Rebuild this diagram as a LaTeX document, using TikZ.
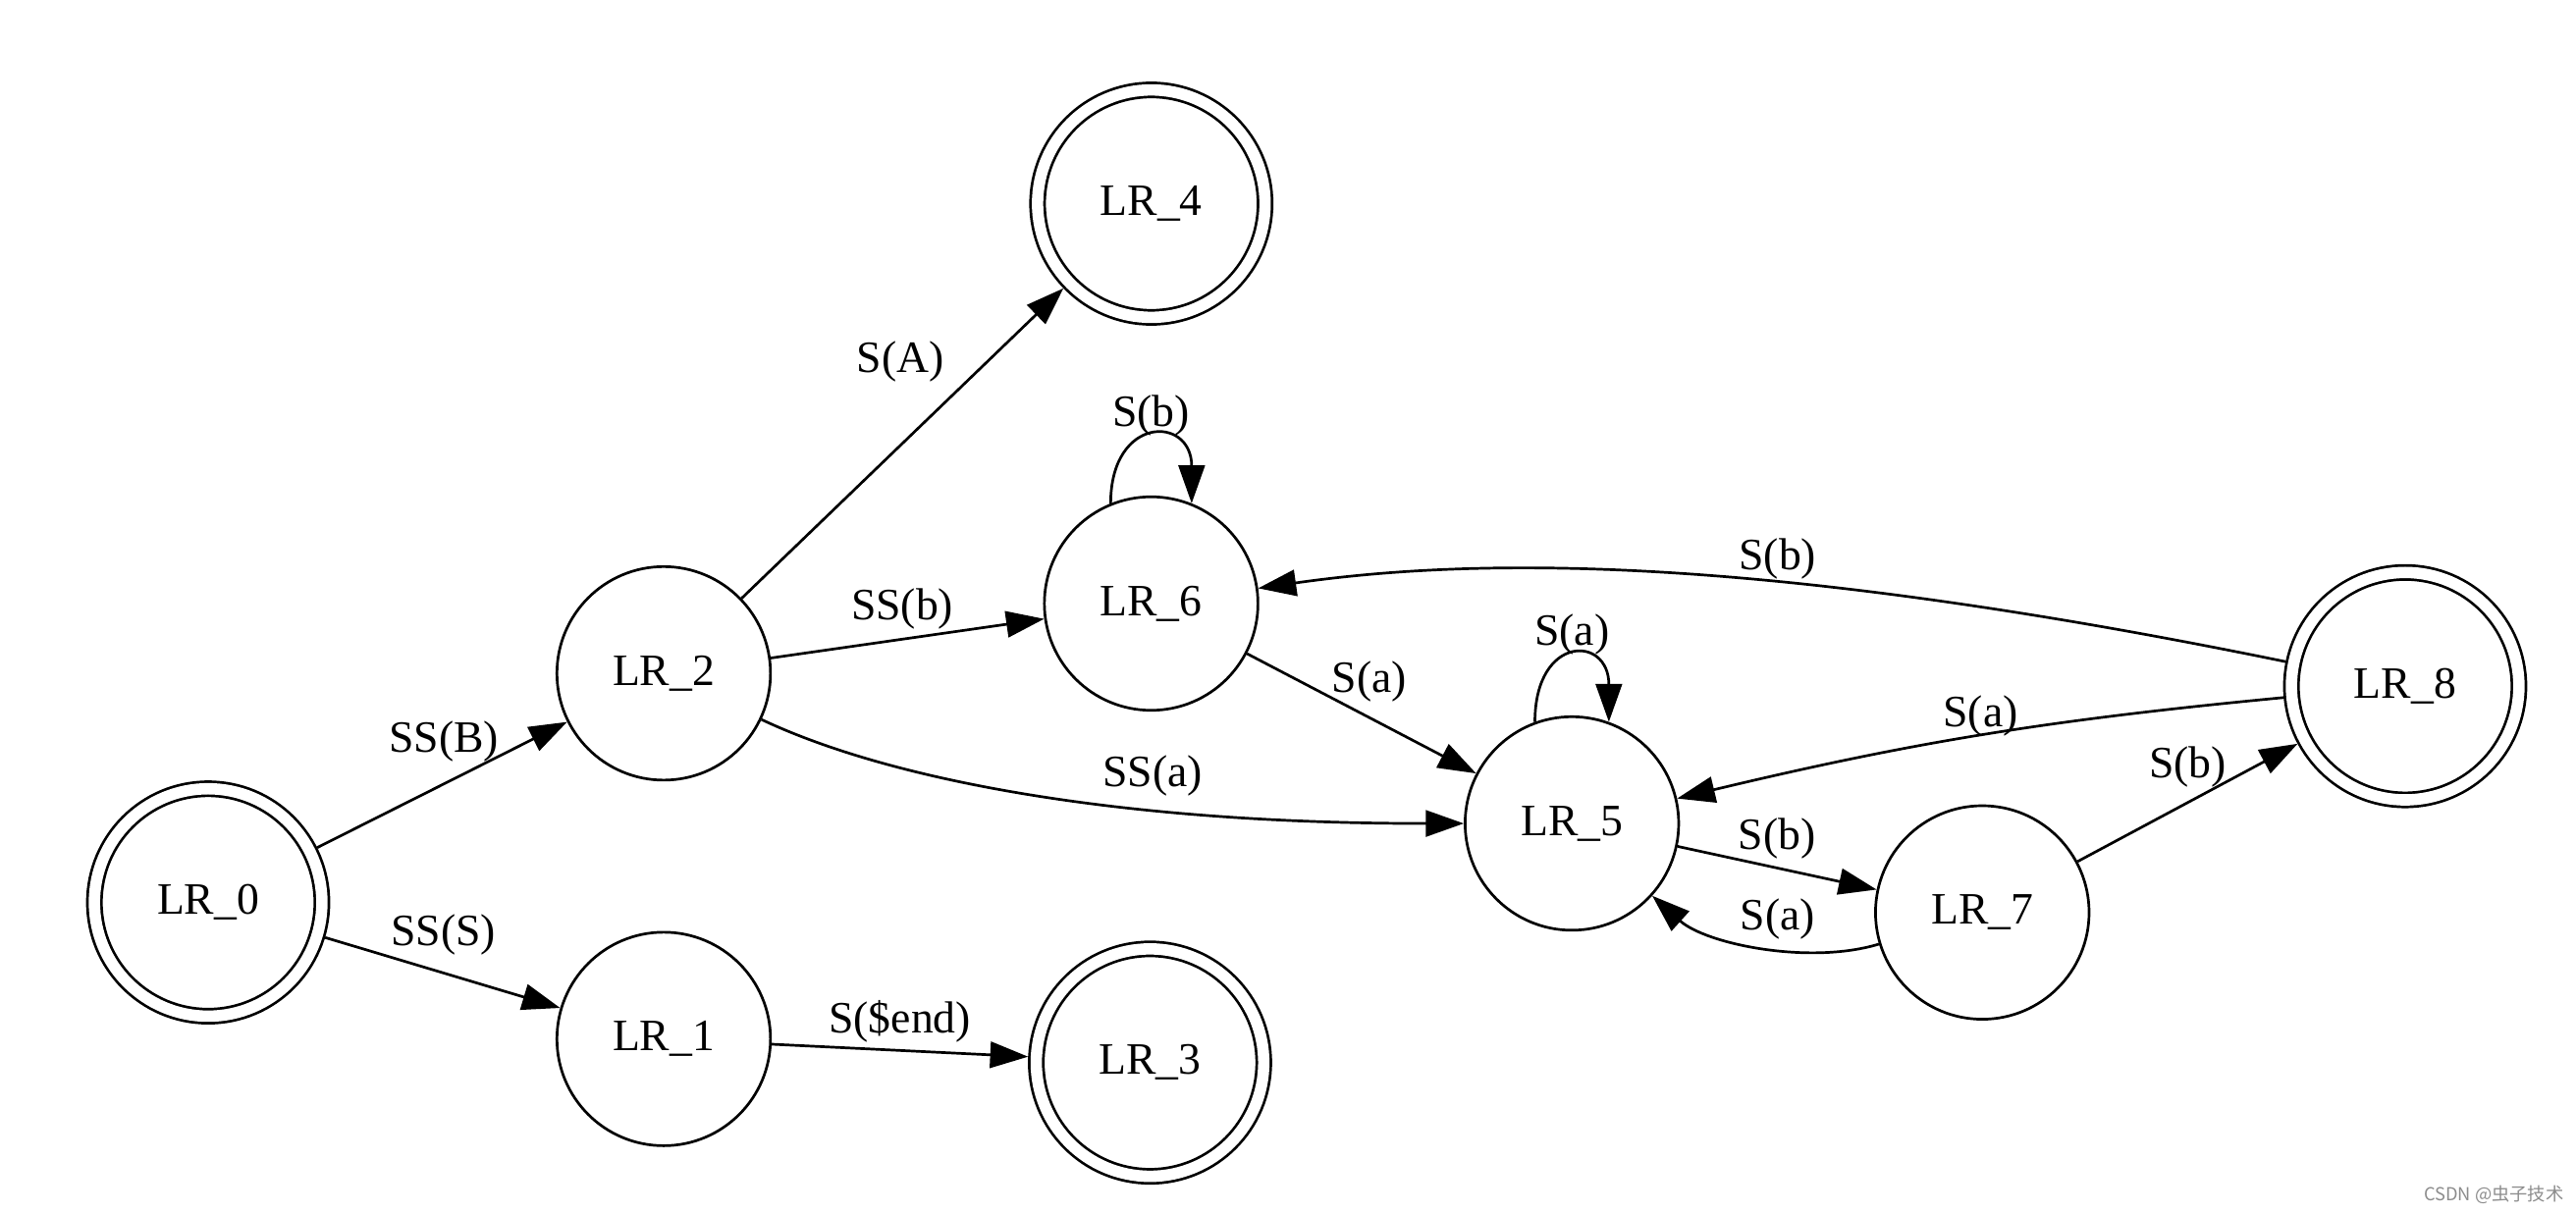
\documentclass[tikz,border=0pt]{standalone}
\usepackage{fontspec}
\setmainfont{Liberation Serif}
\newfontfamily\cjksans{Noto Sans CJK SC}
\usetikzlibrary{arrows.meta,automata}

\begin{document}
\begin{tikzpicture}[x=0.016735cm, y=0.016735cm, >={Triangle[length=11pt,width=7.6pt]}, line width=0.77pt,
	font=\fontsize{13}{15}\selectfont,
	every state/.style={draw, circle, minimum size=2.176cm, inner sep=0pt},
	accepting/.style={double, double distance=3.3pt, minimum size=2.318cm, outer sep=2.4pt},
	lbl/.style={inner sep=0pt}]
	\useasboundingbox (0,0) rectangle (1568,739);

	% Nodes {LR_0, LR_1, ..., LR_8}
	\node [state, accepting]	(LR_0) at (126.7,189.5)	{LR\_0};
	\node [state]				(LR_1) at (404,106.4)	{LR\_1};
	\node [state]				(LR_2) at (404,329)		{LR\_2};
	\node [state, accepting]	(LR_3) at (700,92)		{LR\_3};
	\node [state, accepting]	(LR_4) at (700.8,615)	{LR\_4};
	\node [state]				(LR_5) at (956.8,237.6)	{LR\_5};
	\node [state]				(LR_6) at (700.7,371.5)	{LR\_6};
	\node [state]				(LR_7) at (1206.6,183.4)	{LR\_7};
	\node [state, accepting]	(LR_8) at (1464,321.2)	{LR\_8};

	% Paths
	\path [->] 	(LR_0) edge 	node [lbl, shift={(1,26.5)}]		{SS(B)}		(LR_2);
	\path [->] 	(LR_0) edge 	node [lbl, shift={(0.5,23)}]		{SS(S)}		(LR_1);
	\path [->] 	(LR_1) edge 	node [lbl, shift={(0,17.6)}]		{S(\$end)}	(LR_3);
	\path [->] 	(LR_2) edge 	node [lbl, shift={(-1.2,49.7)}]		{S(A)}		(LR_4);
	\path [->] 	(LR_2) edge 	node [lbl, shift={(-3.1,18.2)}]		{SS(b)}		(LR_6);
	\path [->] 	(LR_2) edge [out=-25.5, in=180, out distance=1.44cm, in distance=3.54cm]
						node [lbl, shift={(74.4,11.1)}]		{SS(a)}		(LR_5);
	\path [->] 	(LR_6.112) edge [out=90, in=90, out distance=0.9cm, in distance=0.9cm]
						node [lbl, above]		{S(b)}		(LR_6.68);
	\path [->] 	(LR_6) edge 	node [lbl, shift={(4.8,19.4)}]		{S(a)}		(LR_5);
	\path [->] 	(LR_5.110) edge [out=90, in=90, out distance=0.89cm, in distance=0.89cm]
						node [lbl, above]		{S(a)}		(LR_5.70);
	\path [->] 	(LR_8) edge [out=168.5, in=8.2, out distance=5.46cm, in distance=2.26cm]
						node [lbl, shift={(73.2,8.6)}]		{S(b)}		(LR_6);
	\path [->] 	(LR_8) edge [bend right=4]	node [lbl, shift={(1.4,12.1)}]	{S(a)}	(LR_5);
	\path [->] 	(LR_5) edge 	node [lbl, shift={(0,17.8)}]		{S(b)}		(LR_7);
	\path [->] 	(LR_7) edge [out=197, in=-42, looseness=0.8]
						node [lbl, shift={(10.9,16.7)}]		{S(a)}		(LR_5);
	\path [->] 	(LR_7) edge 	node [lbl, shift={(0,21.4)}]		{S(b)}		(LR_8);

	% Watermark
	\node [font=\cjksans\fontsize{5.2}{6}\selectfont, text=black!45] (wm) at (1518,11.5) {CSDN @虫子技术};
\end{tikzpicture}
\end{document}
